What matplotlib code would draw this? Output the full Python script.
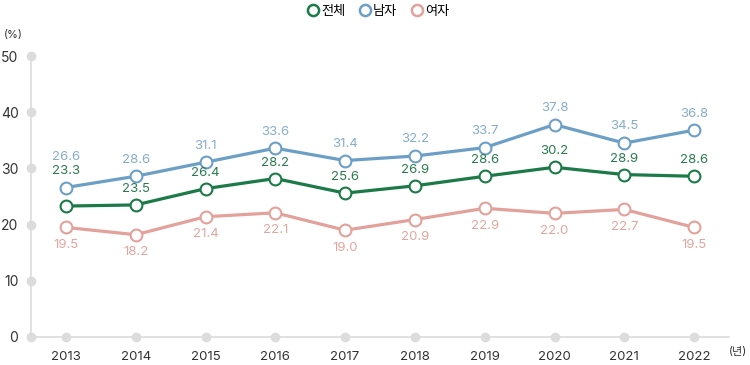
import matplotlib
matplotlib.use("Agg")
import matplotlib.pyplot as plt
from matplotlib.lines import Line2D

plt.rcParams['font.family'] = ['Inter', 'Noto Sans CJK KR', 'DejaVu Sans']

# data
years = [2013, 2014, 2015, 2016, 2017, 2018, 2019, 2020, 2021, 2022]
total = [23.3, 23.5, 26.4, 28.2, 25.6, 26.9, 28.6, 30.2, 28.9, 28.6]
male = [26.6, 28.6, 31.1, 33.6, 31.4, 32.2, 33.7, 37.8, 34.5, 36.8]
female = [19.5, 18.2, 21.4, 22.1, 19.0, 20.9, 22.9, 22.0, 22.7, 19.5]
yticks = [0, 10, 20, 30, 40, 50]

c_total, c_male, c_female = '#1b7a47', '#6c9fc6', '#e2a29b'
t_total, t_male, t_female = '#2a7a4e', '#86aecb', '#e1a69f'
grid_c = '#dcdcdc'

fig = plt.figure(figsize=(7.5, 3.65), dpi=100)
ax = fig.add_axes([31/750, 1-337/365, 698/750, 281/365])
ax.set_xlim(2012.5, 2022.5)
ax.set_ylim(0, 50)

for s in ['top', 'right']:
    ax.spines[s].set_visible(False)
for s in ['left', 'bottom']:
    ax.spines[s].set_color(grid_c)
    ax.spines[s].set_linewidth(1.2)

# grey dots on axes
ax.plot([2012.5]*len(yticks), yticks, 'o', color=grid_c, ms=6, clip_on=False, zorder=3)
ax.plot(years, [0]*len(years), 'o', color=grid_c, ms=6, clip_on=False, zorder=3)

# label offsets in points (2013 labels pushed up to clear the lines)
series = [('m', male, c_male, t_male, 12), ('t', total, c_total, t_total, 11.5),
          ('f', female, c_female, t_female, -12.5)]
nudge = {('t', 2013): 25, ('m', 2013): 22}
for key, vals, col, tcol, off in series:
    ax.plot(years, vals, '-o', color=col, lw=2.3, ms=8.5, mfc='white', mec=col, mew=1.5,
            clip_on=False, zorder=4)
    for x, v in zip(years, vals):
        ax.annotate(f'{v:.1f}', (x, v), xytext=(0, nudge.get((key, x), off)),
                    textcoords='offset points', ha='center', va='center',
                    color=tcol, fontsize=9.5, zorder=5)

ax.set_xticks(years)
ax.set_xticklabels([str(y) for y in years], fontsize=9.5, color='#333333')
ax.set_yticks(yticks)
ax.set_yticklabels([str(t) for t in yticks], fontsize=10, color='#333333')
ax.tick_params(length=0, pad=10)
ax.tick_params(axis='y', pad=9)

fig.text(13/750, 1-35/365, '(%)', fontsize=8, color='#333333', ha='center', va='center')
fig.text(738/750, 1-352/365, '(년)', fontsize=8, color='#333333', ha='center', va='center')

handles = [Line2D([], [], ls='none', marker='o', ms=8, mfc='white', mec=c, mew=1.8)
           for c in (c_total, c_male, c_female)]
fig.legend(handles, ['전체', '남자', '여자'], loc='center', bbox_to_anchor=(378/750, 1-12/365),
           ncol=3, frameon=False, fontsize=9.5, handletextpad=0.1, columnspacing=1.0,
           handlelength=1.0)

fig.savefig('out.png', dpi=100)
